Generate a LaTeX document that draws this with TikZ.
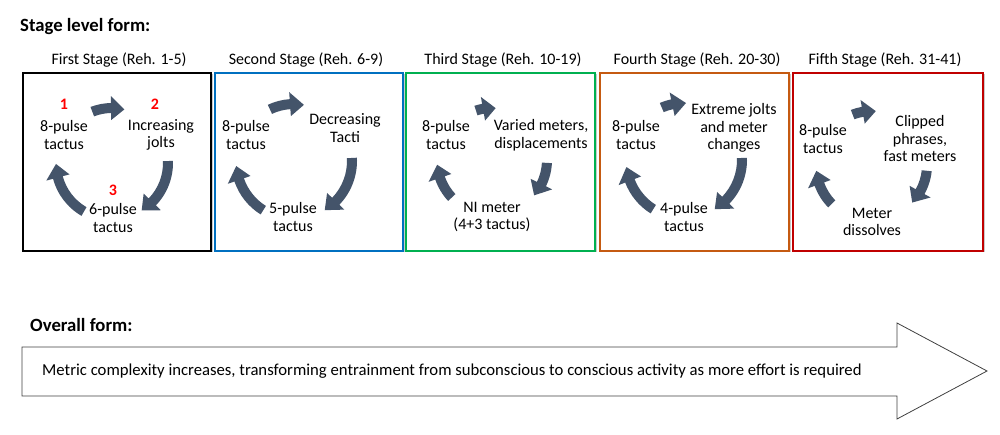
\documentclass[tikz,border=0pt]{standalone}
\usepackage{fontspec}
\setmainfont{Carlito}
\usetikzlibrary{calc,shadows}
\definecolor{arr}{RGB}{68,84,106}
\definecolor{numred}{RGB}{255,0,0}
\definecolor{sblue}{RGB}{0,112,192}
\definecolor{sgreen}{RGB}{0,176,80}
\definecolor{sorange}{RGB}{197,90,17}
\definecolor{sred}{RGB}{192,0,0}
\newcommand{\hdang}{14}
\newcommand{\cycarrow}[4]{%
  \pgfmathsetmacro\cam{#4+\hdang}%
  \pgfmathsetmacro\cro{#2+5}%
  \pgfmathsetmacro\cri{#2-5}%
  \pgfmathsetmacro\cho{#2+12}%
  \pgfmathsetmacro\chi{#2-12}%
  \fill[cyc] ($(#1)+(#3:\cro)$) arc[start angle=#3, end angle=\cam, radius=\cro]
    -- ($(#1)+(\cam:\cho)$) -- ($(#1)+(#4:#2)$) -- ($(#1)+(\cam:\chi)$)
    -- ($(#1)+(\cam:\cri)$) arc[start angle=\cam, end angle=#3, radius=\cri] -- cycle;}
\begin{document}
\begin{tikzpicture}[x=1pt,y=1pt,
  lbl/.style={align=center, font=\fontsize{16}{17.5}\selectfont, inner sep=0pt},
  ttl/.style={font=\fontsize{16}{19}\selectfont, inner sep=0pt},
  hdr/.style={font=\fontsize{18.7}{22}\selectfont\bfseries, inner sep=0pt, anchor=west},
  num/.style={font=\fontsize{16}{19}\selectfont\bfseries, text=numred, inner sep=0pt},
  stagebox/.style={line width=2.5pt, fill=white, minimum height=178pt,
    drop shadow={shadow xshift=1.5pt, shadow yshift=-1.5pt, fill=black!35, opacity=0.6}},
  cyc/.style={fill=arr},
  bigarrow/.style={draw=black!75, line width=0.8pt, fill=white}]
\useasboundingbox (0,0) rectangle (1000,-435);

\node[hdr] (hdr1) at (20,-27) {Stage level form:};

% stage boxes
\node[stagebox, draw=black,   minimum width=188pt] (b1) at (117,-162) {};
\node[stagebox, draw=sblue,   minimum width=188pt] (b2) at (309,-162) {};
\node[stagebox, draw=sgreen,  minimum width=189pt] (b3) at (500.5,-162) {};
\node[stagebox, draw=sorange, minimum width=189pt] (b4) at (694.5,-162) {};
\node[stagebox, draw=sred,    minimum width=190pt] (b5) at (888,-162) {};

% titles
\node[ttl] (t1) at (119,-60) {First Stage (Reh. 1-5)};
\node[ttl] (t2) at (306,-60) {Second Stage (Reh. 6-9)};
\node[ttl] (t3) at (503,-60) {Third Stage (Reh. 10-19)};
\node[ttl] (t4) at (697,-60) {Fourth Stage (Reh. 20-30)};
\node[ttl] (t5) at (885,-60) {Fifth Stage (Reh. 31-41)};

% stage 1
\coordinate (c1) at (112,-163);
\node[num] (n1) at (64,-104) {1};
\node[num] (n2) at (155,-104) {2};
\node[num] (n3) at (113,-190) {3};
\node[lbl] (s1a) at (64,-135) {8-pulse\\tactus};
\node[lbl] (s1b) at (161,-135) {Increasing\\jolts};
\node[lbl] (s1c) at (113,-218) {6-pulse\\tactus};
\cycarrow{c1}{55}{111}{77}
\cycarrow{c1}{56}{2}{-58}
\cycarrow{c1}{56}{240}{181}

% stage 2
\coordinate (c2) at (294,-161);
\node[lbl] (s2a) at (246,-135) {8-pulse\\tactus};
\node[lbl] (s2b) at (345,-128) {Decreasing\\Tacti};
\node[lbl] (s2c) at (293,-217) {5-pulse\\tactus};
\cycarrow{c2}{57}{115}{80}
\cycarrow{c2}{58}{3}{-58}
\cycarrow{c2}{58}{238}{185}

% stage 3
\coordinate (c3) at (492,-160);
\node[lbl] (s3a) at (446,-135) {8-pulse\\tactus};
\node[lbl] (s3b) at (541,-135) {Varied meters,\\displacements};
\node[lbl] (s3c) at (492,-217) {NI meter\\(4+3 tactus)};
\cycarrow{c3}{52}{108}{86}
\cycarrow{c3}{55}{-3}{-40}
\cycarrow{c3}{55}{223}{185}

% stage 4
\coordinate (c4) at (684,-160);
\node[lbl] (s4a) at (636,-135) {8-pulse\\tactus};
\node[lbl] (s4b) at (734,-128) {Extreme jolts\\and meter\\changes};
\node[lbl] (s4c) at (684,-217) {4-pulse\\tactus};
\cycarrow{c4}{57}{113}{88}
\cycarrow{c4}{58}{2}{-58}
\cycarrow{c4}{58}{238}{187}

% stage 5
\coordinate (c5) at (872,-165);
\node[lbl] (s5a) at (823,-139) {8-pulse\\tactus};
\node[lbl] (s5b) at (920,-139) {Clipped\\phrases,\\fast meters};
\node[lbl] (s5c) at (872,-222) {Meter\\dissolves};
\cycarrow{c5}{54}{111}{86}
\cycarrow{c5}{55}{-6}{-43}
\cycarrow{c5}{56}{224}{186}

% overall
\node[hdr] (hdr2) at (30,-325) {Overall form:};
\draw[bigarrow] (22,-347) -- (897,-347) -- (897,-323) -- (987,-371) -- (897,-419) -- (897,-396) -- (22,-396) -- cycle;
\node[anchor=west, inner sep=0pt, font=\fontsize{16.7}{19}\selectfont] (ov) at (42,-371)
  {Metric complexity increases, transforming entrainment from subconscious to conscious activity as more effort is required};
\end{tikzpicture}
\end{document}
